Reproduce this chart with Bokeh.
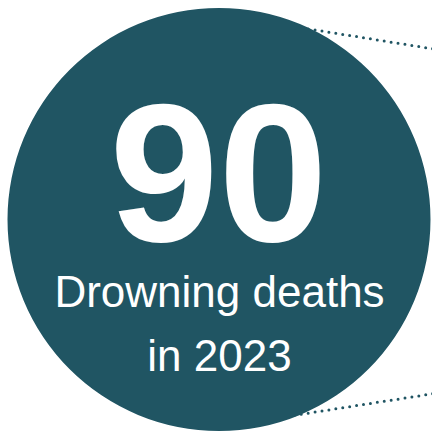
from bokeh.plotting import figure
from bokeh.models import Range1d
from bokeh.core.properties import value
from bokeh.embed import file_html
from bokeh.resources import INLINE

# ---- data ----
headline_value = ["90"]
label_lines = ["Drowning deaths", "in 2023"]

# ---- layout (screen-pixel-like data space) ----
W = H = 432
p = figure(width=W, height=H, output_backend="svg", toolbar_location=None,
           x_range=Range1d(0, 432), y_range=Range1d(432, 0),
           min_border=0, outline_line_color=None, background_fill_color="white",
           border_fill_color="white")
p.axis.visible = False
p.grid.visible = False

TEAL = "#205563"

# dotted connector lines (drawn under the circle)
p.line([280, 440], [24, 49.5], line_color=TEAL, line_width=3,
       line_dash="0 7", line_cap="round")
p.line([280, 440], [417, 392], line_color=TEAL, line_width=3,
       line_dash="0 7", line_cap="round")

# big circle
p.circle(x=[218.5], y=[219], radius=211.5, fill_color=TEAL, line_color=None)

# headline number
p.text(x=[218], y=[172], text=headline_value, text_color="white",
       text_font=value("Liberation Sans"), text_font_style="bold",
       text_font_size="196px", text_align="center", text_baseline="middle")

# label lines
p.text(x=[219, 219], y=[291, 355], text=label_lines, text_color="white",
       text_font=value("Liberation Sans"), text_font_size="44px",
       text_align="center", text_baseline="middle")

open("out.html", "w").write(file_html(p, INLINE))
